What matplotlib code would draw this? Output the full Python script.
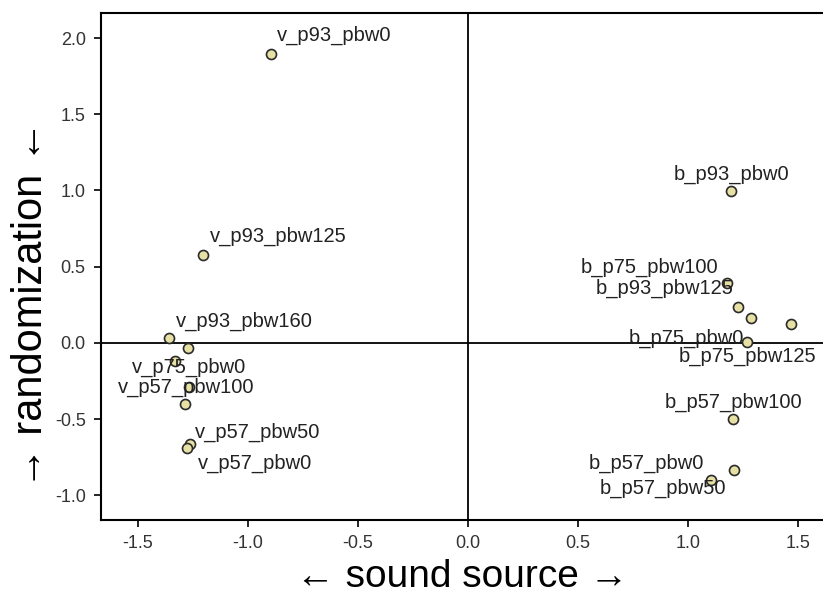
import matplotlib
matplotlib.use("Agg")
import matplotlib.pyplot as plt

plt.rcParams['font.family'] = ['Liberation Sans', 'DejaVu Sans']

# data: sound source (x) vs randomization (y)
x_vals = [-0.897, -1.203, -1.359, -1.273, -1.332, -1.268, -1.286, -1.264, -1.277,
          1.195, 1.176, 1.229, 1.286, 1.467, 1.267, 1.206, 1.210, 1.103]
y_vals = [1.895, 0.575, 0.033, -0.033, -0.118, -0.289, -0.400, -0.662, -0.689,
          0.997, 0.391, 0.238, 0.166, 0.125, 0.004, -0.498, -0.833, -0.898]

# labels: text, index of the point it belongs to
label_texts = ["v_p93_pbw0", "v_p93_pbw125", "v_p93_pbw160", "v_p75_pbw0",
               "v_p57_pbw100", "v_p57_pbw50", "v_p57_pbw0",
               "b_p93_pbw0", "b_p75_pbw100", "b_p93_pbw125", "b_p75_pbw0",
               "b_p75_pbw125", "b_p57_pbw100", "b_p57_pbw0", "b_p57_pbw50"]
label_point = [0, 1, 2, 4, 5, 7, 8, 9, 10, 11, 14, 14, 15, 17, 16]
# placement (pixel offsets, alignment)
label_offset = [(6, 19), (7, 19), (7, 17), (14, -6), (-3, 0), (5, 12), (11, -15),
                (1, 17), (-8, 16), (-5, 18), (-3, 4), (1, -14), (0, 17), (-7, 17), (-8, -18)]
label_ha = ["left", "left", "left", "center", "center", "left", "left",
            "center", "right", "right", "right", "center", "center", "right", "right"]

x_ticks = [-1.5, -1.0, -0.5, 0.0, 0.5, 1.0, 1.5]
y_ticks = [-1.0, -0.5, 0.0, 0.5, 1.0, 1.5, 2.0]

fig = plt.figure(figsize=(8.23, 5.99), dpi=100)
ax = fig.add_axes([101/823, 79/599, 722/823, 507/599])

ax.axhline(0, color='black', lw=1.3, zorder=1)
ax.axvline(0, color='black', lw=1.3, zorder=1)

ax.scatter(x_vals, y_vals, s=52, facecolor='#e6e0a4', edgecolor='#2a2a2a',
           linewidths=1.2, zorder=3)

for txt, pi, (dx, dy), ha in zip(label_texts, label_point, label_offset, label_ha):
    ax.annotate(txt, (x_vals[pi], y_vals[pi]), xytext=(dx, dy),
                textcoords='offset pixels', ha=ha, va='center',
                fontsize=14.5, color='#222222', zorder=4)

ax.set_xlim(-1.668, 1.614)
ax.set_ylim(-1.161, 2.164)
ax.set_xticks(x_ticks)
ax.set_yticks(y_ticks)
ax.set_xticklabels([f"{v:.1f}" for v in x_ticks])
ax.set_yticklabels([f"{v:.1f}" for v in y_ticks])
ax.tick_params(direction='out', length=5, width=1.2, labelsize=13,
               labelcolor='#333333', pad=6)

for side in ['left', 'bottom', 'top']:
    ax.spines[side].set_linewidth(1.5)
    ax.spines[side].set_color('black')
ax.spines['right'].set_visible(False)

ax.set_xlabel("\u2190 sound source \u2192", fontsize=28, labelpad=5)
ax.set_ylabel("\u2192 randomization \u2190", fontsize=30)
ax.yaxis.set_label_coords(-0.069, 0.426)

fig.savefig("out.png", dpi=100)
